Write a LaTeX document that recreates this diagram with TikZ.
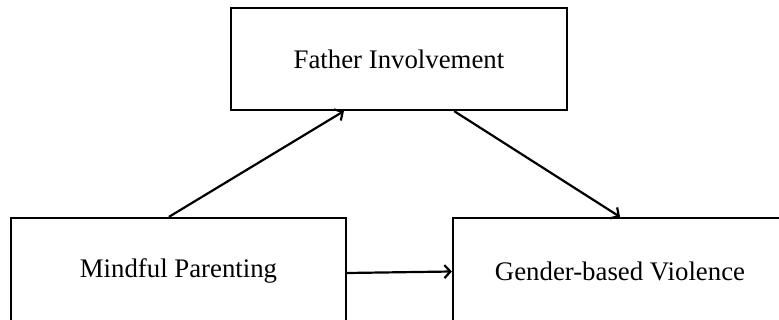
\documentclass[tikz,border=0pt]{standalone}
\usepackage{fontspec}
\setmainfont{Liberation Serif}
\usetikzlibrary{arrows.meta}
\begin{document}
\begin{tikzpicture}[x=1pt,y=-1pt,
  box/.style={draw=black,line width=2.2pt,inner sep=0pt,
    font=\fontsize{26.8}{32}\selectfont},
  conn/.style={line width=2.2pt,-{Straight Barb[length=6pt,width=13pt,line width=2.2pt]}}]
\useasboundingbox (0,0) rectangle (779,320);
\clip (0,0) rectangle (779,320);
\node[box,minimum width=336pt,minimum height=102pt] (T) at (399,59) {Father Involvement};
\node[box,minimum width=335pt,minimum height=106pt] (L) at (178.5,271) {Mindful Parenting};
\node[box,minimum width=334pt,minimum height=106pt] (R) at (620,271) {Gender-based Violence};
\draw[conn] ([xshift=159pt]L.north west) -- ([xshift=114pt]T.south west);
\draw[conn] ([xshift=-114pt]T.south east) -- (R.north);
\draw[conn] ([yshift=-2pt]L.east) -- ([yshift=-0.5pt]R.west);
\end{tikzpicture}
\end{document}
